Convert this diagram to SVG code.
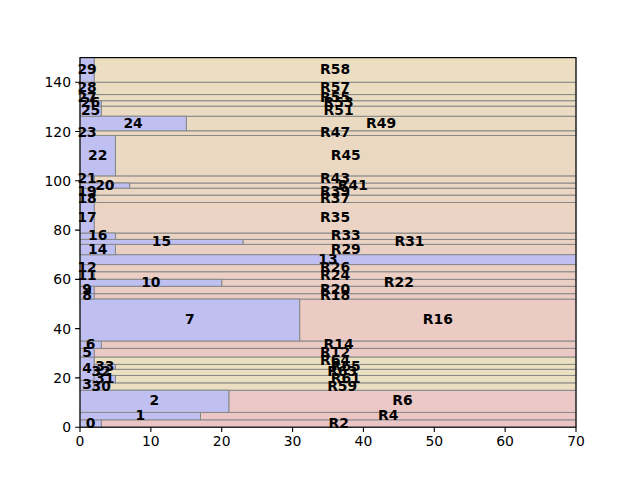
<svg xmlns="http://www.w3.org/2000/svg" width="640" height="480" viewBox="0 0 640 480">
<style>
text{font-family:"DejaVu Sans","Liberation Sans",sans-serif;font-size:13.9px;fill:#000}
.l text{font-weight:bold;text-anchor:middle;dominant-baseline:central;transform:translate(0px,-1px)}
.b{fill:#bfbff2;stroke:#888;stroke-width:1}
.r{stroke:#888;stroke-width:1}
.tx{text-anchor:middle}
.ty{text-anchor:end}
.tk{stroke:#000;stroke-width:1.1}
</style>
<rect width="640" height="480" fill="#fff"/>
<g id="remainders">
<g id="R2"><rect class="r" fill="rgb(235,197,197)" x="101.26" y="419.81" width="474.74" height="7.39"/></g>
<g id="R4"><rect class="r" fill="rgb(235,198,197)" x="200.46" y="412.42" width="375.54" height="7.39"/></g>
<g id="R6"><rect class="r" fill="rgb(235,199,197)" x="228.8" y="390.24" width="347.2" height="22.18"/></g>
<g id="R59"><rect class="r" fill="rgb(235,222,193)" x="108.34" y="382.85" width="467.66" height="7.39"/></g>
<g id="R61"><rect class="r" fill="rgb(235,223,193)" x="115.43" y="375.46" width="460.57" height="7.39"/></g>
<g id="R63"><rect class="r" fill="rgb(235,224,193)" x="108.34" y="369.3" width="467.66" height="6.16"/></g>
<g id="R65"><rect class="r" fill="rgb(235,225,193)" x="115.43" y="364.37" width="460.57" height="4.93"/></g>
<g id="R64"><rect class="r" fill="rgb(235,225,193)" x="94.17" y="356.98" width="481.83" height="7.39"/></g>
<g id="R12"><rect class="r" fill="rgb(235,201,196)" x="94.17" y="348.35" width="481.83" height="8.63"/></g>
<g id="R14"><rect class="r" fill="rgb(235,202,196)" x="101.26" y="340.96" width="474.74" height="7.39"/></g>
<g id="R16"><rect class="r" fill="rgb(235,203,196)" x="299.66" y="299.07" width="276.34" height="41.89"/></g>
<g id="R18"><rect class="r" fill="rgb(235,204,196)" x="94.17" y="293.65" width="481.83" height="5.42"/></g>
<g id="R20"><rect class="r" fill="rgb(235,205,196)" x="94.17" y="286.26" width="481.83" height="7.39"/></g>
<g id="R22"><rect class="r" fill="rgb(235,206,196)" x="221.71" y="279.36" width="354.29" height="6.9"/></g>
<g id="R24"><rect class="r" fill="rgb(235,207,196)" x="94.17" y="271.72" width="481.83" height="7.64"/></g>
<g id="R26"><rect class="r" fill="rgb(235,208,195)" x="94.17" y="264.58" width="481.83" height="7.14"/></g>
<g id="R29"><rect class="r" fill="rgb(235,209,195)" x="115.43" y="244.37" width="460.57" height="10.35"/></g>
<g id="R31"><rect class="r" fill="rgb(235,210,195)" x="242.97" y="239.44" width="333.03" height="4.93"/></g>
<g id="R33"><rect class="r" fill="rgb(235,211,195)" x="115.43" y="233.04" width="460.57" height="6.4"/></g>
<g id="R35"><rect class="r" fill="rgb(235,212,195)" x="94.17" y="202.48" width="481.83" height="30.56"/></g>
<g id="R37"><rect class="r" fill="rgb(235,213,195)" x="94.17" y="195.09" width="481.83" height="7.39"/></g>
<g id="R39"><rect class="r" fill="rgb(235,213,195)" x="94.17" y="188.19" width="481.83" height="6.9"/></g>
<g id="R41"><rect class="r" fill="rgb(235,214,195)" x="129.6" y="183.02" width="446.4" height="5.17"/></g>
<g id="R43"><rect class="r" fill="rgb(235,215,194)" x="94.17" y="175.87" width="481.83" height="7.15"/></g>
<g id="R45"><rect class="r" fill="rgb(235,216,194)" x="115.43" y="135.46" width="460.57" height="40.41"/></g>
<g id="R47"><rect class="r" fill="rgb(235,217,194)" x="94.17" y="130.78" width="481.83" height="4.68"/></g>
<g id="R49"><rect class="r" fill="rgb(235,218,194)" x="186.29" y="116.24" width="389.71" height="14.54"/></g>
<g id="R51"><rect class="r" fill="rgb(235,219,194)" x="101.26" y="106.14" width="474.74" height="10.1"/></g>
<g id="R53"><rect class="r" fill="rgb(235,220,194)" x="101.26" y="100.72" width="474.74" height="5.42"/></g>
<g id="R55"><rect class="r" fill="rgb(235,221,194)" x="94.17" y="94.56" width="481.83" height="6.16"/></g>
<g id="R57"><rect class="r" fill="rgb(235,221,194)" x="94.17" y="82.24" width="481.83" height="12.32"/></g>
<g id="R58"><rect class="r" fill="rgb(235,222,193)" x="94.17" y="57.6" width="481.83" height="24.64"/></g>
</g>
<g id="items">
<g id="n0"><rect class="b" x="80" y="419.81" width="21.26" height="7.39"/></g>
<g id="n1"><rect class="b" x="80" y="412.42" width="120.46" height="7.39"/></g>
<g id="n2"><rect class="b" x="80" y="390.24" width="148.8" height="22.18"/></g>
<g id="n3"><rect class="b" x="80" y="380.38" width="14.17" height="9.86"/></g>
<g id="n4"><rect class="b" x="80" y="356.98" width="14.17" height="23.4"/></g>
<g id="n30"><rect class="b" x="94.17" y="382.85" width="14.17" height="7.39"/></g>
<g id="n31"><rect class="b" x="94.17" y="375.46" width="21.26" height="7.39"/></g>
<g id="n32"><rect class="b" x="94.17" y="369.3" width="14.17" height="6.16"/></g>
<g id="n33"><rect class="b" x="94.17" y="364.37" width="21.26" height="4.93"/></g>
<g id="n5"><rect class="b" x="80" y="348.35" width="14.17" height="8.63"/></g>
<g id="n6"><rect class="b" x="80" y="340.96" width="21.26" height="7.39"/></g>
<g id="n7"><rect class="b" x="80" y="299.07" width="219.66" height="41.89"/></g>
<g id="n8"><rect class="b" x="80" y="293.65" width="14.17" height="5.42"/></g>
<g id="n9"><rect class="b" x="80" y="286.26" width="14.17" height="7.39"/></g>
<g id="n10"><rect class="b" x="80" y="279.36" width="141.71" height="6.9"/></g>
<g id="n11"><rect class="b" x="80" y="271.72" width="14.17" height="7.64"/></g>
<g id="n12"><rect class="b" x="80" y="264.58" width="14.17" height="7.14"/></g>
<g id="n13"><rect class="b" x="80" y="254.72" width="496" height="9.86"/></g>
<g id="n14"><rect class="b" x="80" y="244.37" width="35.43" height="10.35"/></g>
<g id="n15"><rect class="b" x="80" y="239.44" width="162.97" height="4.93"/></g>
<g id="n16"><rect class="b" x="80" y="233.04" width="35.43" height="6.4"/></g>
<g id="n17"><rect class="b" x="80" y="202.48" width="14.17" height="30.56"/></g>
<g id="n18"><rect class="b" x="80" y="195.09" width="14.17" height="7.39"/></g>
<g id="n19"><rect class="b" x="80" y="188.19" width="14.17" height="6.9"/></g>
<g id="n20"><rect class="b" x="80" y="183.02" width="49.6" height="5.17"/></g>
<g id="n21"><rect class="b" x="80" y="175.87" width="14.17" height="7.15"/></g>
<g id="n22"><rect class="b" x="80" y="135.46" width="35.43" height="40.41"/></g>
<g id="n23"><rect class="b" x="80" y="130.78" width="14.17" height="4.68"/></g>
<g id="n24"><rect class="b" x="80" y="116.24" width="106.29" height="14.54"/></g>
<g id="n25"><rect class="b" x="80" y="106.14" width="21.26" height="10.1"/></g>
<g id="n26"><rect class="b" x="80" y="100.72" width="21.26" height="5.42"/></g>
<g id="n27"><rect class="b" x="80" y="94.56" width="14.17" height="6.16"/></g>
<g id="n28"><rect class="b" x="80" y="82.24" width="14.17" height="12.32"/></g>
<g id="n29"><rect class="b" x="80" y="57.6" width="14.17" height="24.64"/></g>
</g>
<g id="labels" class="l">
<text x="338.63" y="423.5">R2</text>
<text x="388.23" y="416.1">R4</text>
<text x="402.4" y="401.3">R6</text>
<text x="342.17" y="386.5">R59</text>
<text x="345.71" y="379.2">R61</text>
<text x="342.17" y="372.4">R63</text>
<text x="345.71" y="366.8">R65</text>
<text x="335.09" y="360.7">R64</text>
<text x="335.09" y="352.7">R12</text>
<text x="338.63" y="344.7">R14</text>
<text x="437.83" y="320">R16</text>
<text x="335.09" y="296.4">R18</text>
<text x="335.09" y="290">R20</text>
<text x="398.86" y="282.8">R22</text>
<text x="335.09" y="275.5">R24</text>
<text x="335.09" y="268.2">R26</text>
<text x="345.71" y="249.5">R29</text>
<text x="409.49" y="241.9">R31</text>
<text x="345.71" y="236.2">R33</text>
<text x="335.09" y="217.8">R35</text>
<text x="335.09" y="198.8">R37</text>
<text x="335.09" y="191.6">R39</text>
<text x="352.8" y="185.6">R41</text>
<text x="335.09" y="179.4">R43</text>
<text x="345.71" y="155.7">R45</text>
<text x="335.09" y="133.1">R47</text>
<text x="381.14" y="123.5">R49</text>
<text x="338.63" y="111.2">R51</text>
<text x="338.63" y="103.4">R53</text>
<text x="335.09" y="97.6">R55</text>
<text x="335.09" y="88.4">R57</text>
<text x="335.09" y="69.9">R58</text>
<text x="90.63" y="423.5">0</text>
<text x="140.23" y="416.1">1</text>
<text x="154.4" y="401.3">2</text>
<text x="87.09" y="385.3">3</text>
<text x="87.09" y="368.7">4</text>
<text x="101.26" y="386.5">30</text>
<text x="104.8" y="379.2">31</text>
<text x="101.26" y="372.4">32</text>
<text x="104.8" y="366.8">33</text>
<text x="87.09" y="352.7">5</text>
<text x="90.63" y="344.7">6</text>
<text x="189.83" y="320">7</text>
<text x="87.09" y="296.4">8</text>
<text x="87.09" y="290">9</text>
<text x="150.86" y="282.8">10</text>
<text x="87.09" y="275.5">11</text>
<text x="87.09" y="268.2">12</text>
<text x="328" y="259.7">13</text>
<text x="97.71" y="249.5">14</text>
<text x="161.49" y="241.9">15</text>
<text x="97.71" y="236.2">16</text>
<text x="87.09" y="217.8">17</text>
<text x="87.09" y="198.8">18</text>
<text x="87.09" y="191.6">19</text>
<text x="104.8" y="185.6">20</text>
<text x="87.09" y="179.4">21</text>
<text x="97.71" y="155.7">22</text>
<text x="87.09" y="133.1">23</text>
<text x="133.14" y="123.5">24</text>
<text x="90.63" y="111.2">25</text>
<text x="90.63" y="103.4">26</text>
<text x="87.09" y="97.6">27</text>
<text x="87.09" y="88.4">28</text>
<text x="87.09" y="69.9">29</text>
</g>
<g id="axes">
<rect x="80" y="57.6" width="496" height="369.6" fill="none" stroke="#000" stroke-width="1.1"/>
<path class="tk" d="M80 427.2v4.9M150.86 427.2v4.9M221.71 427.2v4.9M292.57 427.2v4.9M363.43 427.2v4.9M434.29 427.2v4.9M505.14 427.2v4.9M576 427.2v4.9M80 427.2h-4.9M80 377.92h-4.9M80 328.64h-4.9M80 279.36h-4.9M80 230.08h-4.9M80 180.8h-4.9M80 131.52h-4.9M80 82.24h-4.9"/>
<text class="tx" x="80" y="446">0</text>
<text class="tx" x="150.86" y="446">10</text>
<text class="tx" x="221.71" y="446">20</text>
<text class="tx" x="292.57" y="446">30</text>
<text class="tx" x="363.43" y="446">40</text>
<text class="tx" x="434.29" y="446">50</text>
<text class="tx" x="505.14" y="446">60</text>
<text class="tx" x="576" y="446">70</text>
<text class="ty" x="71" y="432.2">0</text>
<text class="ty" x="71" y="382.9">20</text>
<text class="ty" x="71" y="333.6">40</text>
<text class="ty" x="71" y="284.4">60</text>
<text class="ty" x="71" y="235.1">80</text>
<text class="ty" x="71" y="185.8">100</text>
<text class="ty" x="71" y="136.5">120</text>
<text class="ty" x="71" y="87.2">140</text>
</g>
</svg>
